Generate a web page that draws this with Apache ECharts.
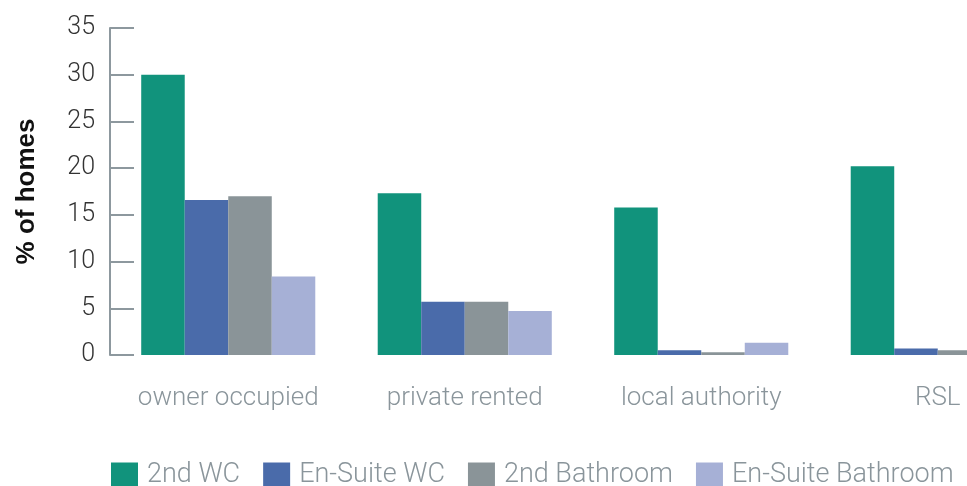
<!DOCTYPE html>
<html>
<head>
<meta charset="utf-8">
<script src="https://cdn.jsdelivr.net/npm/echarts@6/dist/echarts.min.js"></script>
<style>
  html, body { margin: 0; padding: 0; background: #fff; overflow: hidden; }
  /* the chart is wider than the window: the RSL group runs off the right edge */
  #chart { width: 1060px; height: 486px; }
</style>
</head>
<body>
<div id="chart"></div>
<script>
"use strict"
// tenure groups along the x axis
const categories = ['owner occupied', 'private rented', 'local authority', 'RSL'];

// % of homes
const secondWC = [30.0, 17.3, 15.8, 20.2];
const enSuiteWC = [16.6, 5.7, 0.5, 0.7];
const secondBathroom = [17.0, 5.7, 0.3, 0.5];
const enSuiteBathroom = [8.4, 4.7, 1.3, 0.8]; // last one is off the edge

const seriesNames = ['2nd WC', 'En-Suite WC', '2nd Bathroom', 'En-Suite Bathroom'];
const seriesColors = ['#11937c', '#4a6baa', '#8a9498', '#a6b0d6'];

const chart = echarts.init(document.getElementById('chart'));

const textFont = 'Roboto';

function barSeries(name, data, color) {
    return {
        name: name,
        type: 'bar',
        data: data,
        barGap: '0%',
        barCategoryGap: '26.4%',
        itemStyle: { color: color },
        emphasis: { disabled: true },
    };
}

var option = {
    animation: false,
    grid: {
        left: 110,
        width: 946,
        top: 28,
        height: 327,
        containLabel: false,
    },
    legend: {
        left: 111,
        top: 462,
        padding: 0,
        itemWidth: 27,
        itemHeight: 26,
        itemGap: 23,
        icon: 'rect',
        textStyle: {
            fontFamily: textFont,
            fontWeight: 300,
            fontSize: 27,
            color: '#8a959b',
            padding: [0, 0, 1, 4],
        },
        data: seriesNames,
    },
    xAxis: {
        type: 'category',
        data: categories,
        axisLine: { show: false },
        axisTick: { show: false },
        axisLabel: {
            interval: 0,
            margin: 30,
            fontFamily: textFont,
            fontWeight: 300,
            fontSize: 26,
            color: '#8a959b',
        },
    },
    yAxis: {
        type: 'value',
        min: 0,
        max: 35,
        interval: 5,
        name: '% of homes',
        nameLocation: 'middle',
        nameGap: 70,
        nameTextStyle: {
            fontFamily: 'Liberation Sans',
            fontWeight: 'bold',
            fontSize: 26,
            color: '#111',
        },
        axisLine: {
            show: true,
            lineStyle: { color: '#8d989e', width: 2 },
        },
        axisTick: {
            show: true,
            inside: true,
            length: 24,
            lineStyle: { color: '#8d989e', width: 2 },
        },
        splitLine: { show: false },
        axisLabel: {
            margin: 15,
            fontFamily: textFont,
            fontWeight: 300,
            fontSize: 25,
            color: '#333',
        },
    },
    series: [
        barSeries(seriesNames[0], secondWC, seriesColors[0]),
        barSeries(seriesNames[1], enSuiteWC, seriesColors[1]),
        barSeries(seriesNames[2], secondBathroom, seriesColors[2]),
        barSeries(seriesNames[3], enSuiteBathroom, seriesColors[3]),
    ],
};
chart.setOption(option);
</script>
</body>
</html>
